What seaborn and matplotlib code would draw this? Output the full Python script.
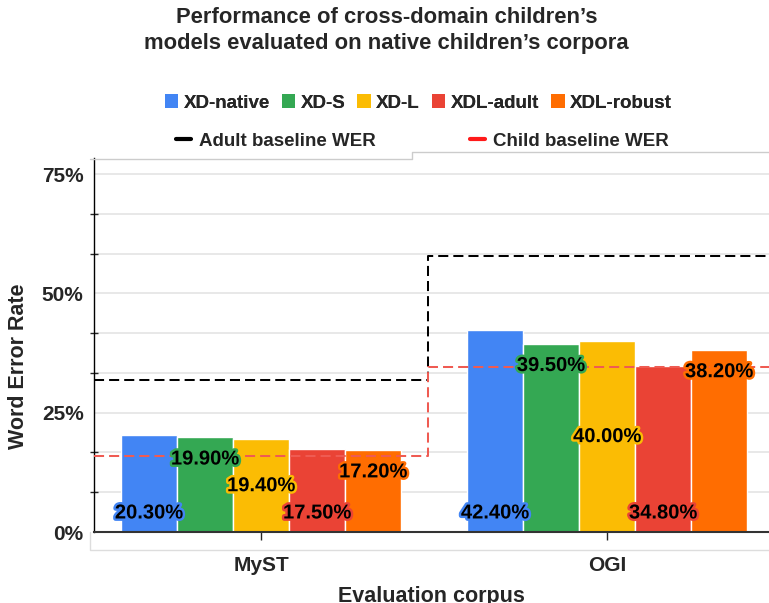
import numpy as np
import pandas as pd
import seaborn as sns
import matplotlib.pyplot as plt
import matplotlib.patheffects as pe
from matplotlib.patches import Patch
from matplotlib.lines import Line2D
from matplotlib.ticker import MultipleLocator, FuncFormatter

# Data
corpora = ["MyST", "OGI"]
models = ["XD-native", "XD-S", "XD-L", "XDL-adult", "XDL-robust"]
wer_myst = [20.3, 19.9, 19.4, 17.5, 17.2]
wer_ogi = [42.4, 39.5, 40.0, 34.8, 38.2]
adult_baseline = [31.9, 57.8]
child_baseline = [15.9, 34.5]

colors = ["#4285F4", "#34A853", "#FBBC04", "#EA4335", "#FF6D01"]
label_pos = ["base", "end", "middle", "base", "end"]

rows = []
for corpus, vals in zip(corpora, [wer_myst, wer_ogi]):
    for m, v in zip(models, vals):
        rows.append({"corpus": corpus, "model": m, "wer": v})
df = pd.DataFrame(rows)

sns.set_style("white")
plt.rcParams["font.family"] = ["Liberation Sans", "DejaVu Sans"]
plt.rcParams["font.weight"] = "bold"

W, H = 769, 603
fig = plt.figure(figsize=(W / 100, H / 100), dpi=100)
ax = fig.add_axes([94 / W, 1 - 532 / H, 675 / W, 374 / H])

sns.barplot(data=df, x="corpus", y="wer", hue="model", hue_order=models,
            palette=colors, width=0.81, saturation=1, edgecolor="white",
            linewidth=1, legend=False, ax=ax, zorder=2)

# baseline step lines
half = 0.483
xs = np.concatenate([[-half], np.arange(len(corpora)) + half])
ax.plot(xs, adult_baseline + adult_baseline[-1:], drawstyle="steps-post",
        color="black", lw=1.45, dashes=(5, 2.5), zorder=3)
ax.plot(xs, child_baseline + child_baseline[-1:], drawstyle="steps-post",
        color="#ef5b52", lw=1.45, dashes=(5, 2.5), zorder=3)

# bar labels
for cont, pos, col in zip(ax.containers, label_pos, colors):
    for bar in cont:
        x = bar.get_x() + bar.get_width() / 2
        h = bar.get_height()
        if pos == "base":
            xy, off = (x, 0), 13.7
        elif pos == "end":
            xy, off = (x, h), -15.8
        else:
            xy, off = (x, h / 2), 0
        ax.annotate(f"{h:.2f}%", xy, xytext=(0, off), textcoords="offset points",
                    ha="center", va="center", fontsize=14.5, fontweight="bold",
                    color="black", zorder=5,
                    path_effects=[pe.withStroke(linewidth=3.5, foreground=col)])

ax.set_xlim(-half, 1.468)
ax.set_ylim(0, 78.4)
ax.yaxis.set_major_locator(MultipleLocator(25))
ax.yaxis.set_minor_locator(MultipleLocator(25 / 3))
ax.yaxis.set_major_formatter(FuncFormatter(lambda v, p: f"{v:.0f}%"))
ax.grid(axis="y", which="both", color="#e4e4e4", lw=1.2, zorder=0)
ax.set_axisbelow(True)

ax.tick_params(axis="y", which="major", direction="inout", length=9, width=1,
               labelsize=15, pad=3)
ax.tick_params(axis="y", which="minor", direction="inout", length=6, width=1, left=True)
ax.tick_params(axis="x", direction="out", length=6, width=1, labelsize=15, pad=11,
               bottom=True)
for lbl in ax.get_xticklabels() + ax.get_yticklabels():
    lbl.set_fontweight("bold")

for s in ["top", "right"]:
    ax.spines[s].set_visible(False)
ax.spines["left"].set_color("black")
ax.spines["left"].set_linewidth(1)
ax.spines["bottom"].set_color("#333333")
ax.spines["bottom"].set_linewidth(1.5)

ax.set_ylabel("Word Error Rate", fontsize=15.5, fontweight="bold")
ax.yaxis.set_label_coords(-0.097, 0.444)
ax.set_xlabel("Evaluation corpus", fontsize=15.5, fontweight="bold")
ax.xaxis.set_label_coords(0.5, -0.145)

fig.suptitle("Performance of cross-domain children\u2019s\nmodels evaluated on native children\u2019s corpora",
             x=0.503, y=1 - 7 / H, va="top", fontsize=15.8, fontweight="bold",
             linespacing=1.3)

# legends
h1 = [Patch(facecolor=c, edgecolor="none") for c in colors]
leg1 = fig.legend(h1, models, loc="center", bbox_to_anchor=(0.544, 1 - 103 / H),
                  ncol=5, frameon=False, handlelength=0.7,
                  handleheight=0.7, handletextpad=0.3, columnspacing=0.65,
                  prop={"weight": "bold", "size": 13.5})
h2 = [Line2D([], [], color="black", lw=3), Line2D([], [], color="#ff1a1a", lw=3)]
fig.legend(h2, ["Adult baseline WER", "Child baseline WER"], loc="center",
           bbox_to_anchor=(0.549, 1 - 141 / H), ncol=2, frameon=False,
           handlelength=0.8, handletextpad=0.45, columnspacing=5.0,
           prop={"weight": "bold", "size": 13.5})
fig.add_artist(leg1)

# faint outer frame
def fx(p):
    return p / W
def fy(p):
    return 1 - p / H
fig.add_artist(Line2D([fx(90), fx(412), fx(412), fx(769)],
                      [fy(159), fy(159), fy(152), fy(152)],
                      color="#cccccc", lw=1))
fig.add_artist(Line2D([fx(90), fx(90), fx(769)], [fy(532), fy(550), fy(550)],
                      color="#dddddd", lw=1))

fig.savefig("out.png", dpi=100)
